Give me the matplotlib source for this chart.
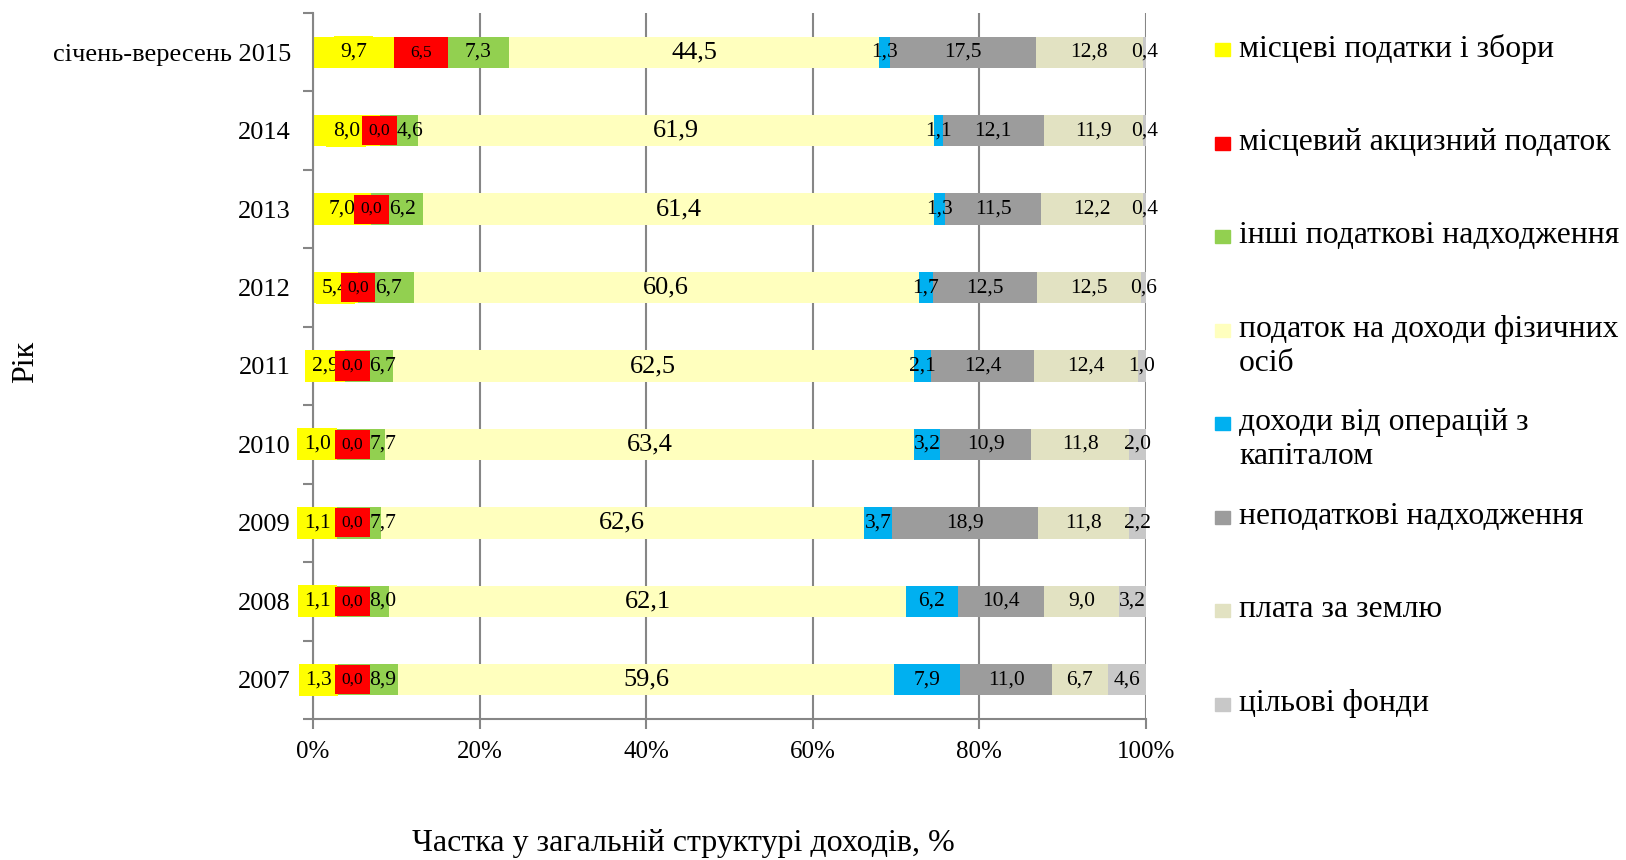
import matplotlib
matplotlib.use("Agg")
import matplotlib.pyplot as plt
from matplotlib.patches import Rectangle
import numpy as np

plt.rcParams["font.family"] = ["Liberation Serif", "DejaVu Serif"]

years = ["2007", "2008", "2009", "2010", "2011", "2012", "2013", "2014",
         "січень-вересень 2015"]

series_names = [
    "місцеві податки і збори",
    "місцевий акцизний податок",
    "інші податкові надходження",
    "податок на доходи фізичних\nосіб",
    "доходи від операцій з\nкапіталом",
    "неподаткові надходження",
    "плата за землю",
    "цільові фонди",
]
colors = ["#FFFF00", "#FF0000", "#92D050", "#FFFFBE",
          "#00B0F0", "#9C9C9C", "#E2E2C2", "#C8C8C8"]

local_taxes = [1.3, 1.1, 1.1, 1.0, 2.9, 5.4, 7.0, 8.0, 9.7]
excise = [0.0, 0.0, 0.0, 0.0, 0.0, 0.0, 0.0, 0.0, 6.5]
other_tax = [8.9, 8.0, 7.7, 7.7, 6.7, 6.7, 6.2, 4.6, 7.3]
pit = [59.6, 62.1, 62.6, 63.4, 62.5, 60.6, 61.4, 61.9, 44.5]
capital = [7.9, 6.2, 3.7, 3.2, 2.1, 1.7, 1.3, 1.1, 1.3]
non_tax = [11.0, 10.4, 18.9, 10.9, 12.4, 12.5, 11.5, 12.1, 17.5]
land = [6.7, 9.0, 11.8, 11.8, 12.4, 12.5, 12.2, 11.9, 12.8]
target_funds = [4.6, 3.2, 2.2, 2.0, 1.0, 0.6, 0.4, 0.4, 0.4]

data = np.array([local_taxes, excise, other_tax, pit, capital,
                 non_tax, land, target_funds])
# 100% stacked: each year is scaled to its own total
shares = data / data.sum(axis=0) * 100
starts = np.vstack([np.zeros(len(years)), np.cumsum(shares, axis=0)[:-1]])

fig = plt.figure(figsize=(16.26, 8.6), dpi=100)
ax = fig.add_axes([313 / 1626, 1 - 719 / 860, 833 / 1626, 706 / 860])

y = np.arange(len(years))
for i in range(len(series_names)):
    ax.barh(y, shares[i], left=starts[i], height=0.4, color=colors[i],
            zorder=2)


def fmt(v):
    return f"{v:.1f}".replace(".", ",")


for j in range(len(years)):
    red_x = max(starts[1, j], 4.7)
    for i in range(len(series_names)):
        v = data[i, j]
        xc = starts[i, j] + shares[i, j] / 2
        kw = dict(ha="center", va="center", fontsize=15.5, zorder=5)
        if i == 0:
            kw["bbox"] = dict(boxstyle="square,pad=0.3", fc=colors[0],
                              ec="none")
        elif i == 1:
            if v == 0:
                xc = red_x
            kw["fontsize"] = 12.5
            kw["bbox"] = dict(boxstyle="square,pad=0.38", fc=colors[1],
                              ec="none")
        elif i == 2 and data[1, j] == 0:
            xc = max(xc, red_x + 3.7)
        elif i == 3:
            kw["fontsize"] = 19
        ax.text(xc, j, fmt(v), **kw)

ax.set_xlim(0, 100)
ax.set_ylim(-0.5, len(years) - 0.5)
ax.set_xticks(np.arange(0, 101, 20))
ax.set_xticklabels([f"{t}%" for t in range(0, 101, 20)], fontsize=18)
ax.set_yticks(y)
ax.set_yticklabels(years, fontsize=19)
ax.set_yticks(np.arange(-0.5, len(years), 1), minor=True)
ax.tick_params(axis="y", which="major", length=0, pad=16)
ax.tick_params(axis="y", which="minor", length=7, width=1.5, color="#868686")
ax.tick_params(axis="x", length=7, width=1.5, color="#868686", pad=9)
ax.xaxis.grid(True, color="#868686", linewidth=1.5, zorder=0)
ax.set_axisbelow(True)
for side in ["top", "right"]:
    ax.spines[side].set_visible(False)
for side in ["left", "bottom"]:
    ax.spines[side].set_color("#868686")
    ax.spines[side].set_linewidth(1.5)

fig.text(26 / 1626, 1 - 362 / 860, "Рік", rotation=90, ha="center",
         va="center", fontsize=23)
fig.text(683 / 1626, 1 - 843 / 860, "Частка у загальній структурі доходів, %",
         ha="center", va="center", fontsize=23)

# legend drawn by hand so the two-line entries align like the original
for i, name in enumerate(series_names):
    yc = 49 + i * 93.5
    fig.patches.append(Rectangle((1215 / 1626, 1 - (yc + 7) / 860),
                                 15 / 1626, 13 / 860, color=colors[i],
                                 transform=fig.transFigure))
    fig.text(1239 / 1626, 1 - (yc - 15) / 860, name, ha="left", va="top",
             fontsize=22.8, linespacing=1.24)

fig.savefig("out.png", dpi=100)
